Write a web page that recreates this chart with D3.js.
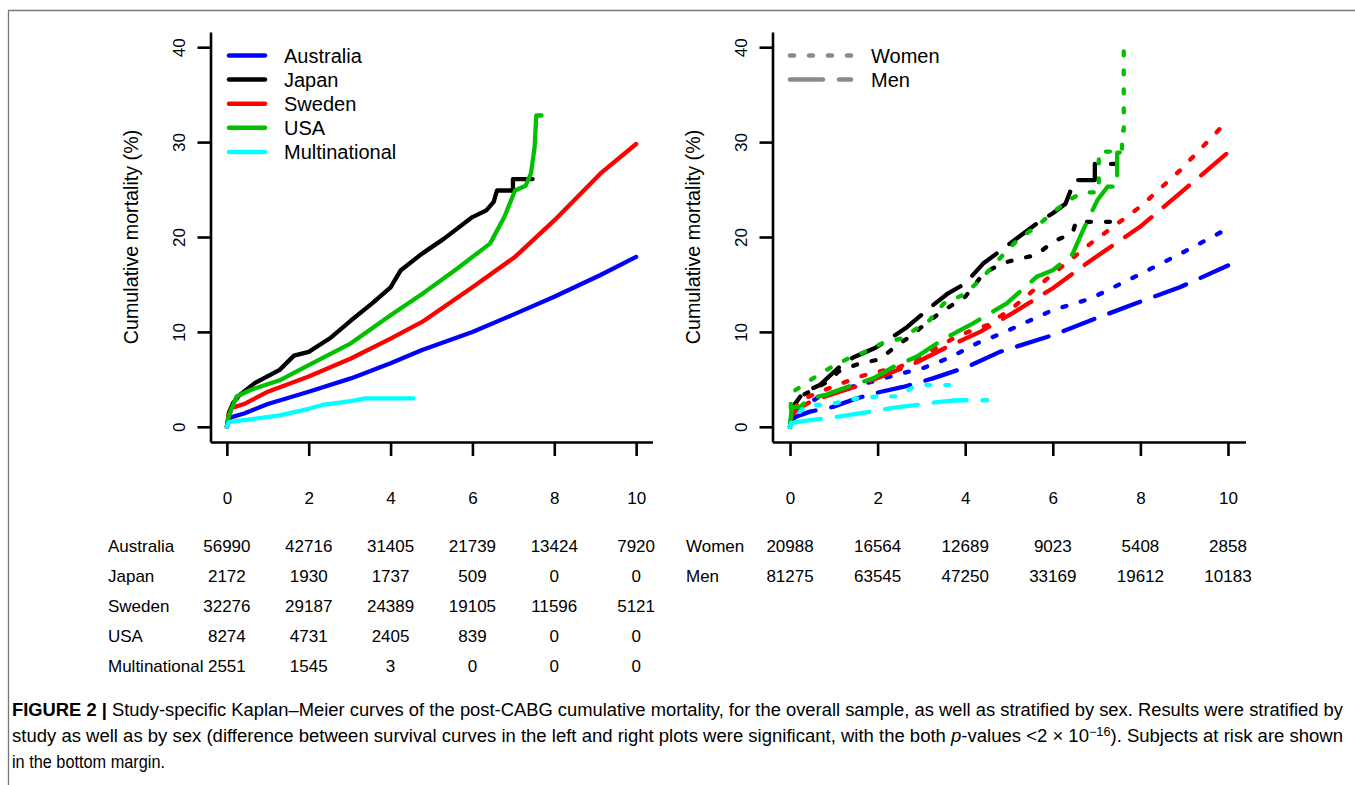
<!DOCTYPE html>
<html>
<head>
<meta charset="utf-8">
<script src="https://cdn.jsdelivr.net/npm/d3@7"></script>
<style>
  body { margin: 0; background: #fff; }
  svg { display: block; }
  text { font-family: "Liberation Sans", Arial, Helvetica, sans-serif; fill: #000; }
</style>
</head>
<body>
<svg id="chart" width="1355" height="785"></svg>
<script>
// time axis (years) and mortality ticks
var years = [0, 2, 4, 6, 8, 10];
var yTicks = [0, 10, 20, 30, 40];

var countries = ["Australia", "Japan", "Sweden", "USA", "Multinational"];
var sexes = ["Women", "Men"];

// left panel: overall curves, [years, cumulative mortality %]
var kmAustralia = [[0,0],[0.05,0.8],[0.1,1.0],[0.42,1.4],[1,2.4],[2,3.7],[3.03,5.1],[4,6.7],[4.77,8.1],[6,10.0],[7.04,11.9],[8,13.7],[9.13,16.0],[10,17.9]];
var kmJapan = [[0,0],[0.05,1.5],[0.15,2.5],[0.3,3.3],[0.68,4.6],[1.29,6.0],[1.64,7.5],[2,7.9],[2.51,9.3],[3.03,11.2],[3.55,13.0],[4,14.7],[4.25,16.5],[4.77,18.25],[5.3,19.8],[6,22.1],[6.34,22.8],[6.52,23.7],[6.6,24.9],[6.99,24.9],[6.99,26.1],[7.47,26.1]];
var kmSweden = [[0,0],[0.05,1.2],[0.12,2.0],[0.42,2.4],[1,3.7],[2,5.3],[3.03,7.2],[4,9.3],[4.77,11.05],[6,14.7],[7.04,17.9],[7.39,19.3],[8,21.75],[9.13,26.7],[10,29.8]];
var kmUSA = [[0,0],[0.05,1.2],[0.1,1.75],[0.24,3.2],[0.59,3.9],[1.29,4.9],[2,6.5],[3.03,8.8],[4,11.75],[4.77,14.0],[5.64,16.7],[6,17.9],[6.43,19.3],[6.78,22.1],[7.04,24.9],[7.3,25.4],[7.43,26.7],[7.52,29.5],[7.56,32.8],[7.69,32.8]];
var kmMulti = [[0,0],[0.05,0.5],[0.42,0.7],[1.29,1.2],[2,1.9],[2.33,2.3],[3.03,2.7],[3.38,3.0],[4.56,3.0]];

// right panel: by sex
var kmAustraliaW = [[0,0],[0.05,1.0],[0.3,2.1],[0.68,3.2],[1.3,4.1],[1.83,4.7],[2.44,5.5],[3.04,6.2],[3.65,7.3],[4.27,8.8],[4.86,9.9],[6,12.3],[6.86,13.5],[8,16.1],[8.9,18.2],[10,20.9]];
var kmAustraliaM = [[0,0],[0.05,0.8],[0.15,1.1],[0.46,1.6],[0.98,2.1],[1.53,3.0],[1.99,3.6],[2.58,4.2],[3.26,5.1],[4.04,6.3],[4.79,7.9],[6,9.65],[6.86,11.2],[8,13.2],[8.9,14.7],[10,17.0]];
var kmJapanW = [[0,0],[0.05,2.0],[0.23,3.2],[0.53,3.9],[0.91,4.9],[1.1,5.8],[1.6,6.7],[2.05,7.1],[2.44,8.6],[2.74,9.5],[3.18,11.2],[3.59,12.5],[4,13.7],[4.41,16.1],[4.82,17.2],[5.22,17.7],[5.63,18.1],[6,19.5],[6.45,20.4],[6.53,21.6],[7.5,21.6]];
var kmJapanM = [[0,0],[0.05,2.0],[0.3,3.6],[0.68,4.4],[1.1,6.2],[1.44,7.3],[1.94,8.3],[2.35,9.5],[2.67,10.5],[3.26,12.8],[3.59,14.0],[4,15.1],[4.41,17.2],[4.82,18.6],[5.22,20.0],[5.63,21.4],[6,22.5],[6.29,23.5],[6.5,26.0],[6.96,26.0],[6.96,27.7],[7.42,27.7]];
var kmSwedenW = [[0,0],[0.05,1.5],[0.23,2.8],[0.91,4.1],[1.53,5.2],[1.9,5.7],[2.5,6.3],[3.26,8.1],[3.88,9.7],[4.5,10.7],[5.1,12.6],[6,16.1],[6.86,19.3],[8,23.2],[8.9,27.0],[10,32.3]];
var kmSwedenM = [[0,0],[0.05,1.2],[0.15,1.8],[0.53,2.8],[1.07,3.6],[1.6,4.4],[2.2,5.5],[2.9,6.8],[3.58,8.4],[4.34,10.0],[5.09,12.0],[6,14.6],[6.86,17.5],[8,21.1],[8.9,24.6],[10,28.9]];
var kmUSAW = [[0,0],[0.02,2.5],[0.07,3.7],[0.62,5.4],[0.91,6.2],[1.37,7.3],[1.83,8.1],[2.1,8.8],[2.53,9.3],[3.18,11.2],[3.51,13.0],[4,14.0],[4.41,15.8],[4.82,17.9],[5.22,19.8],[5.63,21.1],[6,22.6],[6.37,23.9],[6.69,24.7],[7.05,24.7],[7.05,29.0],[7.58,29.0],[7.58,31.2],[7.62,31.2],[7.62,40.9]];
var kmUSAM = [[0,0],[0.02,1.1],[0.05,2.1],[0.23,2.1],[0.46,3.0],[0.84,3.4],[1.3,4.2],[1.9,5.1],[2.35,6.3],[2.9,7.4],[3.49,9.2],[4.18,10.9],[4.95,13.0],[5.63,15.8],[6,16.5],[6.45,18.2],[6.69,20.7],[7.02,23.9],[7.25,25.3],[7.47,25.3],[7.47,28.9],[7.53,28.9]];
var kmMultiW = [[0,0],[0.05,1.0],[0.2,1.5],[0.4,2.3],[0.84,2.3],[1.53,3.0],[1.99,3.2],[2.44,3.2],[2.9,4.4],[3.93,4.4]];
var kmMultiM = [[0,0],[0.05,0.35],[0.15,0.5],[0.46,0.7],[1.14,1.1],[1.83,1.6],[2.35,2.0],[2.9,2.3],[3.35,2.6],[3.81,2.8],[4.5,2.8]];

// numbers at risk at each of the years above
var riskAustralia = [56990, 42716, 31405, 21739, 13424, 7920];
var riskJapan = [2172, 1930, 1737, 509, 0, 0];
var riskSweden = [32276, 29187, 24389, 19105, 11596, 5121];
var riskUSA = [8274, 4731, 2405, 839, 0, 0];
var riskMulti = [2551, 1545, 3, 0, 0, 0];
var riskWomen = [20988, 16564, 12689, 9023, 5408, 2858];
var riskMen = [81275, 63545, 47250, 33169, 19612, 10183];

var colour = { Australia: "#0000ff", Japan: "#000000", Sweden: "#ff0000", USA: "#00c000", Multinational: "#00ffff" };
var dash = { Women: "4,15", Men: "33,16" };

var overall = [kmAustralia, kmJapan, kmSweden, kmUSA, kmMulti];
var bySex = [[kmAustraliaW, kmAustraliaM], [kmJapanW, kmJapanM], [kmSwedenW, kmSwedenM], [kmUSAW, kmUSAM], [kmMultiW, kmMultiM]];
var riskLeft = [riskAustralia, riskJapan, riskSweden, riskUSA, riskMulti];
var riskRight = [riskWomen, riskMen];

var svg = d3.select("#chart");

// figure frame
svg.append("path")
  .attr("d", "M8.5,785V10.5H1355")
  .attr("fill", "none").attr("stroke", "#777").attr("stroke-width", 1.3);

var y = d3.scaleLinear().domain([-1.6, 41.6]).range([442, 32]);

function panel(x0, x1, labelX) {
  var x = d3.scaleLinear().domain([-0.4, 10.4]).range([x0, x1]);
  var g = svg.append("g");

  var xa = g.append("g").attr("transform", "translate(0,442)")
    .call(d3.axisBottom(x).tickValues(years).tickSize(14).tickSizeOuter(0).tickPadding(36));
  var ya = g.append("g").attr("transform", "translate(" + x0 + ",0)")
    .call(d3.axisLeft(y).tickValues(yTicks).tickSize(13).tickSizeOuter(0));
  ya.selectAll(".tick text")
    .attr("transform", "rotate(-90)")
    .attr("text-anchor", "middle")
    .attr("x", 0).attr("y", -31).attr("dy", "0.35em");
  [xa, ya].forEach(function(a) {
    a.selectAll("path, line").attr("stroke", "#000").attr("stroke-width", 2.6);
    a.selectAll("text").attr("font-size", 17).attr("font-family", "Liberation Sans, Arial, sans-serif").attr("fill", "#000");
  });

  g.append("text")
    .attr("transform", "translate(" + labelX + ",237) rotate(-90)")
    .attr("text-anchor", "middle")
    .attr("font-size", 19.7)
    .text("Cumulative mortality (%)");

  return { g: g, x: x };
}

var L = panel(210.5, 652.5, 138);
var R = panel(772.5, 1245.5, 700);

function line(x) {
  return d3.line().x(function(d) { return x(d[0]); }).y(function(d) { return y(d[1]); });
}

// left curves
L.g.selectAll(".km").data(overall).enter().append("path")
  .attr("d", line(L.x))
  .attr("fill", "none")
  .attr("stroke", function(d, i) { return colour[countries[i]]; })
  .attr("stroke-width", 4.3)
  .attr("stroke-linejoin", "round")
  .attr("stroke-linecap", "round");

// right curves
bySex.forEach(function(pair, i) {
  pair.forEach(function(d, j) {
    R.g.append("path").datum(d)
      .attr("d", line(R.x))
      .attr("fill", "none")
      .attr("stroke", colour[countries[i]])
      .attr("stroke-width", 4.3)
      .attr("stroke-dasharray", dash[sexes[j]])
      .attr("stroke-linejoin", "round")
      .attr("stroke-linecap", "round");
  });
});

// legends
var legL = L.g.append("g");
countries.forEach(function(c, i) {
  var yy = 55.5 + i * 24.1;
  legL.append("line").attr("x1", 229).attr("x2", 265).attr("y1", yy).attr("y2", yy)
    .attr("stroke", colour[c]).attr("stroke-width", 4.5).attr("stroke-linecap", "round");
  legL.append("text").attr("x", 284).attr("y", yy).attr("dy", "0.35em").attr("font-size", 20).text(c);
});

var legR = R.g.append("g");
sexes.forEach(function(s, i) {
  var yy = 55.5 + i * 24.1;
  legR.append("line").attr("x1", 790).attr("x2", 851).attr("y1", yy).attr("y2", yy)
    .attr("stroke", "#8a8a8a").attr("stroke-width", 4.5).attr("stroke-linecap", "round")
    .attr("stroke-dasharray", dash[s]);
  legR.append("text").attr("x", 871).attr("y", yy).attr("dy", "0.35em").attr("font-size", 20).text(s);
});

// numbers at risk
function riskTable(p, names, rows, labelX) {
  rows.forEach(function(r, i) {
    var yy = 546 + i * 30;
    p.g.append("text").attr("x", labelX).attr("y", yy).attr("dy", "0.35em")
      .attr("font-size", 17).text(names[i]);
    p.g.selectAll(null).data(r).enter().append("text")
      .attr("x", function(d, k) { return p.x(years[k]); })
      .attr("y", yy).attr("dy", "0.35em")
      .attr("text-anchor", "middle")
      .attr("font-size", 17)
      .text(function(d) { return d; });
  });
}
riskTable(L, countries, riskLeft, 108);
riskTable(R, sexes, riskRight, 686);

// caption
var cap = svg.append("g").attr("font-size", 17.5);
var capFont = "Liberation Sans Narrow, Liberation Sans, Arial, sans-serif";
var t1 = cap.append("text").attr("x", 12).attr("y", 716)
  .attr("textLength", 1331).attr("lengthAdjust", "spacingAndGlyphs")
  .style("font-family", capFont).attr("fill", "#231f20");
t1.append("tspan").attr("font-weight", "bold").text("FIGURE 2 | ");
t1.append("tspan").text("Study-specific Kaplan–Meier curves of the post-CABG cumulative mortality, for the overall sample, as well as stratified by sex. Results were stratified by");

var t2 = cap.append("text").attr("x", 12).attr("y", 742)
  .attr("textLength", 1331).attr("lengthAdjust", "spacingAndGlyphs")
  .style("font-family", capFont).attr("fill", "#231f20");
t2.append("tspan").text("study as well as by sex (difference between survival curves in the left and right plots were significant, with the both ");
t2.append("tspan").attr("font-style", "italic").text("p");
t2.append("tspan").text("-values <2 × 10");
t2.append("tspan").attr("dy", -6).attr("font-size", 12).text("−16");
t2.append("tspan").attr("dy", 6).text("). Subjects at risk are shown");

cap.append("text").attr("x", 12).attr("y", 768)
  .attr("textLength", 153).attr("lengthAdjust", "spacingAndGlyphs")
  .style("font-family", capFont).attr("fill", "#231f20")
  .text("in the bottom margin.");
</script>
</body>
</html>
